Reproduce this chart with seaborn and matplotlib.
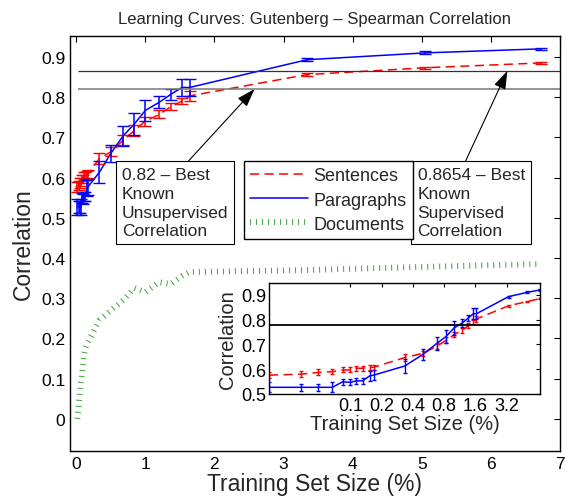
import numpy as np
import pandas as pd
import matplotlib
matplotlib.use('Agg')
import matplotlib.pyplot as plt
import seaborn as sns

# data
train_size = [0.0164, 0.033, 0.049, 0.067, 0.084, 0.1, 0.114, 0.131, 0.153, 0.167,
              0.334, 0.5, 0.68, 0.84, 1.0, 1.2, 1.37, 1.53, 1.64, 3.34, 5.05, 6.72]
sent_corr = [0.576, 0.580, 0.587, 0.590, 0.597, 0.597, 0.604, 0.604, 0.607, 0.608,
             0.647, 0.664, 0.693, 0.717, 0.740, 0.757, 0.776, 0.790, 0.803, 0.856, 0.873, 0.885]
sent_err = [0.012, 0.012, 0.012, 0.010, 0.010, 0.010, 0.010, 0.010, 0.010, 0.010,
            0.013, 0.011, 0.012, 0.013, 0.011, 0.010, 0.009, 0.008, 0.012, 0.004, 0.003, 0.003]
para_corr = [0.527, 0.527, 0.527, 0.527, 0.549, 0.547, 0.553, 0.553, 0.573, 0.576,
             0.613, 0.660, 0.704, 0.733, 0.767, 0.787, 0.807, 0.824, 0.824, 0.893, 0.910, 0.920]
para_err = [0.020, 0.015, 0.015, 0.020, 0.012, 0.012, 0.012, 0.012, 0.020, 0.020,
            0.027, 0.021, 0.025, 0.027, 0.027, 0.015, 0.013, 0.022, 0.022, 0.004, 0.004, 0.003]
doc_corr = [0.0, 0.03, 0.06, 0.09, 0.11, 0.14, 0.16, 0.175, 0.185, 0.19,
            0.245, 0.27, 0.295, 0.325, 0.315, 0.34, 0.335, 0.355, 0.365, 0.37, 0.378, 0.385]

best_unsup = 0.82
best_sup = 0.8654
inset_ref = 0.777

main_xticks = [0, 1, 2, 3, 4, 5, 6, 7]
main_yticks = [0, 0.1, 0.2, 0.3, 0.4, 0.5, 0.6, 0.7, 0.8, 0.9]
inset_xticks = [0.1, 0.2, 0.4, 0.8, 1.6, 3.2]
inset_yticks = [0.5, 0.6, 0.7, 0.8, 0.9]

df = pd.DataFrame({'size': train_size, 'sent': sent_corr, 'para': para_corr, 'doc': doc_corr})

sns.set_style('white')
plt.rcParams['font.family'] = ['Liberation Sans', 'DejaVu Sans']
plt.rcParams['xtick.direction'] = 'in'
plt.rcParams['ytick.direction'] = 'in'

RED = (1, 0, 0)
BLUE = (0, 0, 1)
GREEN = (0.3, 0.65, 0.3)

fig = plt.figure(figsize=(5.67, 5.02), dpi=100)
ax = fig.add_axes([0.1235, 0.0996, 0.864, 0.8267])

sns.lineplot(data=df, x='size', y='sent', ax=ax, color=RED, lw=1.1,
             linestyle=(0, (6, 3.5)), sort=False, label='Sentences')
sns.lineplot(data=df, x='size', y='para', ax=ax, color=BLUE, lw=1.1,
             sort=False, label='Paragraphs')
sns.lineplot(data=df, x='size', y='doc', ax=ax, color=GREEN, lw=4.2,
             linestyle=(0, (0.18, 0.85)), sort=False, label='Documents')
for ln in ax.lines:
    ln.set_dash_capstyle('butt')
ax.errorbar(train_size, sent_corr, yerr=sent_err, fmt='none', ecolor=RED, elinewidth=1.1, capsize=4)
ax.errorbar(train_size, para_corr, yerr=para_err, fmt='none', ecolor=BLUE, elinewidth=1.1, capsize=4)

ax.hlines(best_sup, 0.03, 7, color='#333333', lw=0.9)
ax.hlines(best_unsup, 0.03, 7, color='#777777', lw=1.1)

ax.set_xlim(-0.09, 7)
ax.set_ylim(-0.08, 0.952)
ax.set_xticks(main_xticks)
ax.set_xticklabels([str(t) for t in main_xticks])
ax.set_yticks(main_yticks)
ax.set_yticklabels(['0'] + ['%.1f' % t for t in main_yticks[1:]])
ax.tick_params(labelsize=12.5, top=True, right=True, length=4, width=0.8, colors='black')
for s in ax.spines.values():
    s.set_color('black')
    s.set_linewidth(1.0)
ax.set_xlabel('Training Set Size (%)', fontsize=16.5, labelpad=1)
ax.set_ylabel('Correlation', fontsize=16.5, labelpad=4)
ax.set_title('Learning Curves: Gutenberg \u2013 Spearman Correlation', fontsize=12, pad=9)

handles = ax.lines[:3]
leg = ax.legend(handles, ['Sentences', 'Paragraphs', 'Documents'], loc='upper left',
                bbox_to_anchor=(244 / 567, 1 - 162 / 502), bbox_transform=fig.transFigure,
                borderaxespad=0, fontsize=13, handlelength=3.2, handletextpad=0.3,
                labelspacing=0.4, borderpad=0.35, fancybox=False, framealpha=1,
                edgecolor='black')
leg.get_frame().set_linewidth(1.0)

arrow = dict(arrowstyle='-|>,head_length=0.9,head_width=0.3', color='black', lw=0.8,
             shrinkA=0, shrinkB=0)
box = dict(boxstyle='square,pad=0.35', fc='white', ec='black', lw=0.8)
ax.annotate('0.82 \u2013 Best\nKnown\nUnsupervised\nCorrelation', xy=(2.58, best_unsup),
            xytext=(0.66, 0.625), ha='left', va='top', fontsize=12.5, linespacing=1.3,
            bbox=box, arrowprops=dict(arrow, relpos=(0.57, 1.0)))
ax.annotate('0.8654 \u2013 Best\nKnown\nSupervised\nCorrelation', xy=(6.24, best_sup),
            xytext=(4.94, 0.625), ha='left', va='top', fontsize=12.5, linespacing=1.3,
            bbox=box, arrowprops=dict(arrow, relpos=(0.42, 1.0)))

# inset on log axis
ins = fig.add_axes([269 / 567, 1 - 395 / 502, 271 / 567, 111 / 502])
ins.set_xscale('log', base=2)
sns.lineplot(data=df, x='size', y='sent', ax=ins, color=RED, lw=1.1,
             linestyle=(0, (6, 3.5)), sort=False, legend=False)
sns.lineplot(data=df, x='size', y='para', ax=ins, color=BLUE, lw=1.1, sort=False, legend=False)
ins.errorbar(train_size, sent_corr, yerr=sent_err, fmt='none', ecolor=RED, elinewidth=1.0, capsize=1.2)
ins.errorbar(train_size, para_corr, yerr=para_err, fmt='none', ecolor=BLUE, elinewidth=1.0, capsize=1.2)
ins.axhline(inset_ref, color='black', lw=1.3)
ins.set_xlim(0.0164, 6.72)
ins.set_ylim(0.5, 0.948)
ins.set_xticks(inset_xticks)
ins.set_xticklabels([str(t) for t in inset_xticks])
ins.minorticks_off()
ins.set_yticks(inset_yticks)
ins.set_yticklabels(['%.1f' % t for t in inset_yticks])
ins.tick_params(labelsize=13, top=True, right=True, length=3, width=0.8, pad=2, colors='black')
for s in ins.spines.values():
    s.set_color('black')
    s.set_linewidth(1.0)
ins.set_xlabel('Training Set Size (%)', fontsize=14.5, labelpad=0)
ins.set_ylabel('Correlation', fontsize=14.5, labelpad=3)

fig.savefig('out.png', dpi=100)
